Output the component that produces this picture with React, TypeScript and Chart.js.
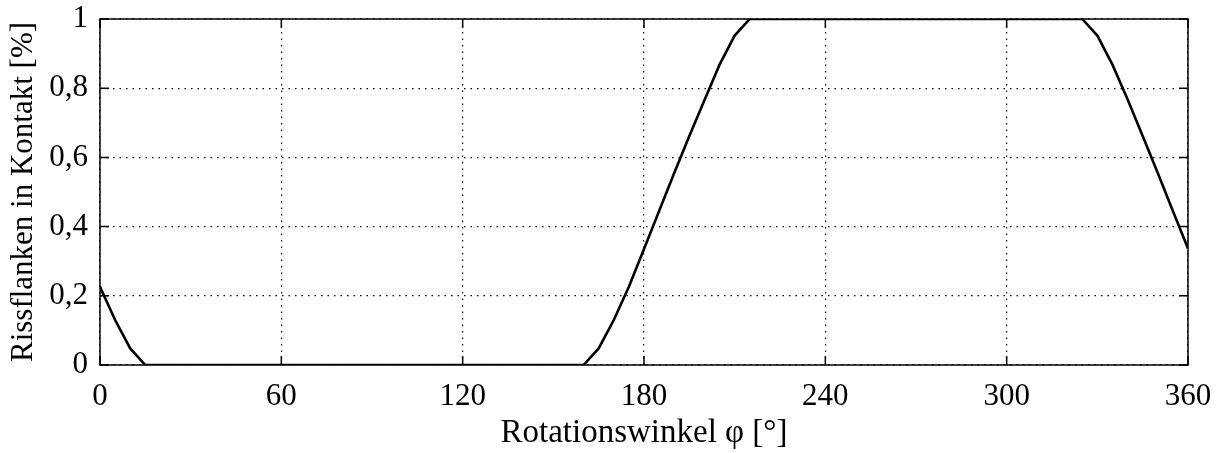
import React, { useEffect, useRef } from "react";
import { Chart, registerables } from "chart.js";

Chart.register(...registerables);

// Rotation angle in degrees, sampled every 5°
const angles: number[] = Array.from({ length: 73 }, (_, i) => i * 5);

// Fraction of crack flanks in contact at each angle
const contact: number[] = [
  0.226, 0.13, 0.048, 0, 0, 0, 0, 0, 0, 0, // 0 - 45
  0, 0, 0, 0, 0, 0, 0, 0, 0, 0,            // 50 - 95
  0, 0, 0, 0, 0, 0, 0, 0, 0, 0,            // 100 - 145
  0, 0, 0, 0.048, 0.13, 0.226, 0.335, 0.445, 0.555, 0.662, // 150 - 195
  0.765, 0.868, 0.952, 1, 1, 1, 1, 1, 1, 1, // 200 - 245
  1, 1, 1, 1, 1, 1, 1, 1, 1, 1,            // 250 - 295
  1, 1, 1, 1, 1, 1, 0.952, 0.868, 0.768, 0.662, // 300 - 345
  0.555, 0.445, 0.337,                      // 350 - 360
];

const xTicks: number[] = [0, 60, 120, 180, 240, 300, 360];
const yTicks: number[] = [0, 0.2, 0.4, 0.6, 0.8, 1];
const yTickLabels: string[] = ["0", "0,2", "0,4", "0,6", "0,8", "1"];

const xTitle = "Rotationswinkel φ [°]";
const yTitle = "Rissflanken in Kontakt [%]";

const FONT = "'Liberation Serif', 'Times New Roman', serif";

// Solid frame around the plot area with short inward tick marks on all four sides
const framePlugin = {
  id: "frameTicks",
  afterDatasetsDraw(chart: any) {
    const { ctx, chartArea, scales } = chart;
    const { left, right, top, bottom } = chartArea;
    const len = 9;
    ctx.save();
    ctx.strokeStyle = "#000";
    ctx.lineWidth = 1.5;
    ctx.beginPath();
    xTicks.forEach((v) => {
      const px = scales.x.getPixelForValue(v);
      ctx.moveTo(px, bottom);
      ctx.lineTo(px, bottom - len);
      ctx.moveTo(px, top);
      ctx.lineTo(px, top + len);
    });
    yTicks.forEach((v) => {
      const py = scales.y.getPixelForValue(v);
      ctx.moveTo(left, py);
      ctx.lineTo(left + len, py);
      ctx.moveTo(right, py);
      ctx.lineTo(right - len, py);
    });
    ctx.stroke();
    ctx.strokeRect(left, top, right - left, bottom - top);
    ctx.restore();
  },
};

// Let the layout padding alone decide where the plot area sits
const noScalePadding = (scale: any) => {
  scale.paddingTop = 0;
  scale.paddingBottom = 0;
  scale.paddingLeft = 0;
  scale.paddingRight = 0;
};

export default function App() {
  const canvasRef = useRef<HTMLCanvasElement | null>(null);

  useEffect(() => {
    if (!canvasRef.current) return;
    const chart = new Chart(canvasRef.current, {
      type: "line",
      data: {
        datasets: [
          {
            data: angles.map((a, i) => ({ x: a, y: contact[i] })),
            borderColor: "#000",
            borderWidth: 2.6,
            pointRadius: 0,
            tension: 0,
            fill: false,
          },
        ],
      },
      options: {
        responsive: false,
        animation: false,
        events: [],
        layout: { padding: { top: 19, right: 31, left: 0, bottom: 0 } },
        plugins: {
          legend: { display: false },
          tooltip: { enabled: false },
        },
        scales: {
          x: {
            type: "linear",
            min: 0,
            max: 360,
            afterFit(scale: any) {
              scale.height = 88;
              noScalePadding(scale);
            },
            afterBuildTicks(scale: any) {
              scale.ticks = xTicks.map((v) => ({ value: v }));
            },
            ticks: {
              color: "#000",
              padding: 13,
              maxRotation: 0,
              font: { family: FONT, size: 31 },
              callback: (v: any) => String(v),
            },
            grid: {
              color: "#000",
              lineWidth: 1.2,
              drawTicks: false,
            },
            border: { display: false, dash: [1.5, 5] },
            title: {
              display: true,
              text: xTitle,
              color: "#000",
              font: { family: FONT, size: 33 },
              padding: { top: 0, bottom: 0 },
            },
          },
          y: {
            type: "linear",
            min: 0,
            max: 1,
            afterFit(scale: any) {
              scale.width = 100;
              noScalePadding(scale);
            },
            afterBuildTicks(scale: any) {
              scale.ticks = yTicks.map((v) => ({ value: v }));
            },
            ticks: {
              color: "#000",
              padding: 12,
              font: { family: FONT, size: 31 },
              callback: (v: any) => {
                const i = yTicks.findIndex((t) => Math.abs(t - v) < 1e-6);
                return i >= 0 ? yTickLabels[i] : "";
              },
            },
            grid: {
              color: "#000",
              lineWidth: 1.2,
              drawTicks: false,
            },
            border: { display: false, dash: [1.5, 5] },
            title: {
              display: true,
              text: yTitle,
              color: "#000",
              font: { family: FONT, size: 31 },
              padding: { top: 5, bottom: 0 },
            },
          },
        },
      },
      plugins: [framePlugin],
    });
    return () => chart.destroy();
  }, []);

  return (
    <div style={{ position: "absolute", left: 0, top: 0, width: 1219, height: 453, background: "#fff" }}>
      <canvas ref={canvasRef} width={1219} height={453} />
    </div>
  );
}
